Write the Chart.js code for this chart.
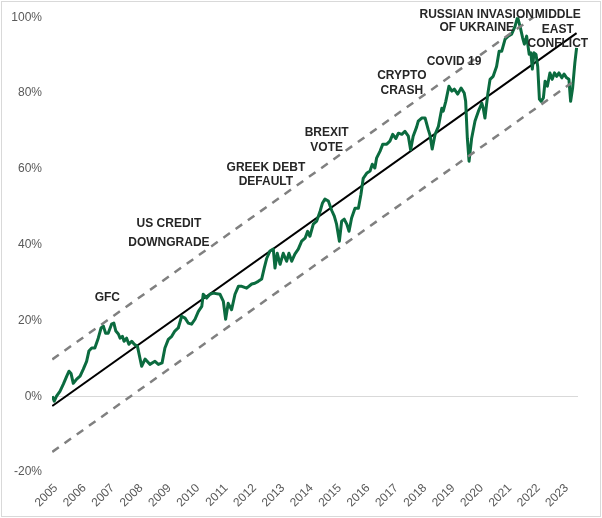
<!DOCTYPE html>
<html>
<head>
<meta charset="utf-8">
<script src="https://cdn.jsdelivr.net/npm/chart.js@4/dist/chart.umd.min.js"></script>
<style>
  html, body { margin: 0; padding: 0; background: #ffffff; }
  #wrap { position: relative; width: 602px; height: 518px; }
  #frame { position: absolute; left: 1px; top: 1px; width: 598px; height: 514px; border: 1px solid #d9d9d9; pointer-events: none; }
  canvas { display: block; }
</style>
</head>
<body>
<div id="wrap">
  <canvas id="c" width="602" height="518"></canvas>
  <div id="frame"></div>
</div>
<script>
// ---- Data (decimal years, cumulative return in %) ----
const dates = [
  2004.87, 2004.94, 2005.02, 2005.14, 2005.26, 2005.38, 2005.46, 2005.53, 2005.61, 2005.73,
  2005.85, 2005.96, 2006.08, 2006.16, 2006.26, 2006.37, 2006.49, 2006.59, 2006.67, 2006.75,
  2006.84, 2006.96, 2007.04, 2007.11, 2007.20, 2007.26, 2007.34, 2007.40, 2007.49, 2007.57,
  2007.67, 2007.76, 2007.87, 2008.02, 2008.14, 2008.31, 2008.49, 2008.61, 2008.74, 2008.84,
  2008.96, 2009.08, 2009.19, 2009.31, 2009.43, 2009.55, 2009.66, 2009.78, 2009.90, 2010.02,
  2010.14, 2010.19, 2010.31, 2010.43, 2010.54, 2010.78, 2010.90, 2010.98, 2011.07, 2011.19,
  2011.31, 2011.43, 2011.55, 2011.72, 2011.90, 2012.01, 2012.13, 2012.25, 2012.34, 2012.43,
  2012.54, 2012.66, 2012.72, 2012.80, 2012.90, 2013.01, 2013.13, 2013.21, 2013.31, 2013.42,
  2013.54, 2013.66, 2013.78, 2013.87, 2013.95, 2014.07, 2014.19, 2014.31, 2014.39, 2014.48,
  2014.60, 2014.72, 2014.81, 2014.89, 2014.99, 2015.07, 2015.16, 2015.25, 2015.33, 2015.42,
  2015.54, 2015.66, 2015.75, 2015.83, 2015.95, 2016.07, 2016.15, 2016.24, 2016.30, 2016.42,
  2016.52, 2016.66, 2016.77, 2016.87, 2016.98, 2017.07, 2017.19, 2017.30, 2017.42, 2017.50,
  2017.59, 2017.71, 2017.77, 2017.89, 2018.01, 2018.12, 2018.18, 2018.26, 2018.36, 2018.48,
  2018.60, 2018.65, 2018.74, 2018.85, 2018.95, 2019.04, 2019.16, 2019.28, 2019.39, 2019.44,
  2019.50, 2019.56, 2019.65, 2019.77, 2019.89, 2020.01, 2020.06, 2020.12, 2020.22, 2020.30,
  2020.41, 2020.53, 2020.62, 2020.71, 2020.83, 2020.94, 2021.06, 2021.18, 2021.27, 2021.36,
  2021.45, 2021.51, 2021.59, 2021.68, 2021.74, 2021.79, 2021.85, 2021.92, 2021.98, 2022.04,
  2022.10, 2022.18, 2022.24, 2022.32, 2022.41, 2022.49, 2022.57, 2022.65, 2022.73, 2022.83,
  2022.91, 2023.00, 2023.08, 2023.14, 2023.21, 2023.29, 2023.35
];
const returns = [
  0.0, -1.3, 0.0, 1.3, 3.2, 5.3, 6.6, 6.0, 3.4, 4.5,
  5.3, 7.1, 9.2, 11.9, 12.7, 12.7, 15.3, 18.0, 18.5, 16.6,
  16.6, 19.0, 19.3, 17.2, 16.4, 15.3, 15.8, 14.5, 15.3, 13.7,
  14.5, 13.7, 13.2, 7.9, 9.8, 8.4, 9.2, 8.4, 8.8, 12.7,
  15.0, 15.8, 17.2, 18.0, 21.1, 20.6, 19.3, 19.0, 20.3, 22.4,
  23.7, 26.9, 25.9, 26.9, 27.2, 26.9, 25.0, 20.3, 24.5, 22.8,
  26.9, 29.0, 29.0, 28.5, 29.6, 29.8, 30.3, 30.9, 33.8, 36.4,
  38.3, 38.8, 33.8, 37.7, 34.8, 37.7, 35.6, 37.7, 35.6, 37.5,
  38.8, 40.9, 41.7, 43.5, 42.2, 45.4, 46.2, 48.8, 50.9, 52.0,
  51.5, 49.0, 47.5, 45.4, 40.9, 46.2, 46.7, 45.4, 43.5, 47.0,
  49.6, 49.6, 53.3, 57.5, 58.8, 59.4, 61.2, 60.2, 62.8, 64.6,
  66.5, 66.5, 67.3, 69.1, 68.0, 69.4, 69.1, 69.9, 68.6, 65.0,
  68.6, 71.0, 72.6, 73.4, 73.4, 70.4, 69.0, 65.2, 69.0, 71.2,
  76.0, 75.2, 77.8, 81.8, 80.5, 81.0, 79.7, 81.3, 80.0, 77.8,
  68.0, 62.0, 68.0, 72.6, 75.2, 77.3, 76.0, 73.4, 79.7, 83.6,
  84.4, 87.0, 91.0, 91.0, 94.2, 95.0, 95.5, 97.6, 100.0, 97.5,
  94.5, 92.9, 95.0, 90.2, 90.6, 86.3, 90.6, 90.2, 87.0, 78.4,
  77.8, 78.7, 83.1, 81.8, 85.3, 83.6, 85.3, 84.4, 85.3, 84.0,
  85.0, 84.0, 83.6, 77.8, 81.3, 88.0, 91.9
];
// Trend line and channel (start / end points)
const trendDates = [2004.87, 2023.35];
const trendValues = [-2.6, 95.8];
const upperDates = [2004.87, 2023.35];
const upperValues = [9.7, 108.1];
const lowerDates = [2004.87, 2023.18];
const lowerValues = [-14.7, 82.7];

const tickYears = [2005,2006,2007,2008,2009,2010,2011,2012,2013,2014,2015,2016,2017,2018,2019,2020,2021,2022,2023];
const yTicks = [-20, 0, 20, 40, 60, 80, 100];

// Event annotations: text lines and anchor (year, value) of first line
const eventLabels = [
  ["GFC"],
  ["US CREDIT", "DOWNGRADE"],
  ["GREEK DEBT", "DEFAULT"],
  ["BREXIT", "VOTE"],
  ["CRYPTO", "CRASH"],
  ["COVID 19"],
  ["RUSSIAN INVASION", "OF UKRAINE"],
  ["MIDDLE", "EAST", "CONFLICT"]
];
const eventYears = [2006.81, 2008.98, 2012.40, 2014.54, 2017.19, 2019.03, 2019.83, 2022.69];
const eventValues = [26.1, 45.5, 60.3, 69.4, 84.5, 88.2, 100.7, 100.7];
const eventLineGap = [14, 19, 14.3, 14.4, 14.3, 14, 13.4, 14.7];

const toXY = (xs, ys) => xs.map((x, i) => ({ x: x, y: ys[i] }));

const annotationPlugin = {
  id: 'events',
  afterDatasetsDraw(chart) {
    const ctx = chart.ctx;
    const xs = chart.scales.x, ys = chart.scales.y;
    ctx.save();
    ctx.font = 'bold 12px "Liberation Sans", Arial, sans-serif';
    ctx.fillStyle = '#262626';
    ctx.textAlign = 'center';
    ctx.textBaseline = 'middle';
    eventLabels.forEach((lines, i) => {
      const px = xs.getPixelForValue(eventYears[i]);
      const py = ys.getPixelForValue(eventValues[i]);
      lines.forEach((t, j) => ctx.fillText(t, px, py + j * eventLineGap[i]));
    });
    ctx.restore();
  }
};

new Chart(document.getElementById('c'), {
  type: 'line',
  data: {
    datasets: [
      { data: toXY(upperDates, upperValues), borderColor: '#808080', borderWidth: 2.5, borderDash: [8, 7], pointRadius: 0, fill: false },
      { data: toXY(lowerDates, lowerValues), borderColor: '#808080', borderWidth: 2.5, borderDash: [8, 7], pointRadius: 0, fill: false },
      { data: toXY(dates, returns), borderColor: '#0b6b3f', borderWidth: 3, pointRadius: 0, fill: false, tension: 0, borderJoinStyle: 'round' },
      { data: toXY(trendDates, trendValues), borderColor: '#000000', borderWidth: 2, pointRadius: 0, fill: false }
    ]
  },
  options: {
    responsive: false,
    animation: false,
    events: [],
    layout: { padding: { top: 16, right: 24, left: 0, bottom: 0 } },
    plugins: { legend: { display: false }, tooltip: { enabled: false } },
    scales: {
      x: {
        type: 'linear',
        min: 2004.86,
        max: 2023.40,
        afterBuildTicks: (s) => { s.ticks = tickYears.map(v => ({ value: v })); },
        afterFit: (s) => { s.height = 46; },
        grid: { display: false, drawTicks: false },
        border: { display: false },
        ticks: {
          autoSkip: false,
          minRotation: 45,
          maxRotation: 45,
          padding: 9,
          color: '#595959',
          font: { family: '"Liberation Sans", Arial, sans-serif', size: 12 },
          callback: (v) => String(v)
        }
      },
      y: {
        min: -20,
        max: 100,
        afterBuildTicks: (s) => { s.ticks = yTicks.map(v => ({ value: v })); },
        afterFit: (s) => { s.width = 52; },
        grid: {
          drawTicks: false,
          color: (c) => (c.tick && c.tick.value === 0) ? '#d9d9d9' : 'rgba(0,0,0,0)',
          lineWidth: 1
        },
        border: { display: false },
        ticks: {
          padding: 10,
          color: '#595959',
          font: { family: '"Liberation Sans", Arial, sans-serif', size: 12 },
          callback: (v) => v + '%'
        }
      }
    }
  },
  plugins: [annotationPlugin]
});
</script>
</body>
</html>
